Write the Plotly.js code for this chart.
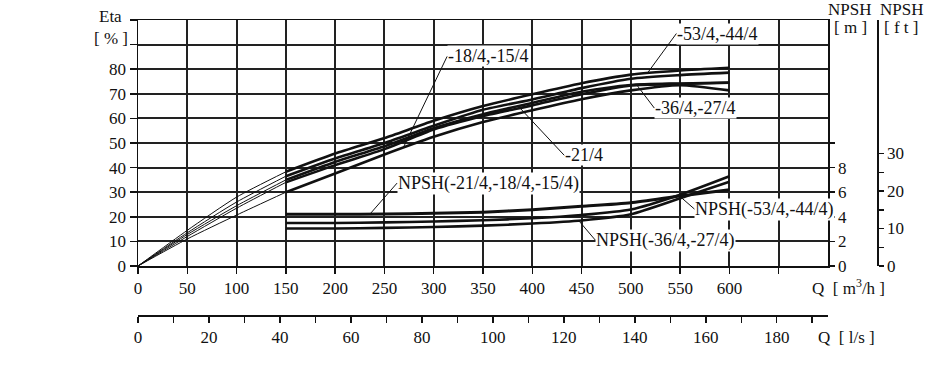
<!DOCTYPE html>
<html><head><meta charset="utf-8">
<script src="https://cdn.plot.ly/plotly-3.0.1.min.js"></script>
<style>html,body{margin:0;padding:0;background:#fff}#chart{width:940px;height:372px}</style>
</head><body><div id="chart"></div>
<script>
// ---------- DATA ----------
// Flow rate sample points [m3/h]
const flowQ = [0, 50, 100, 150, 200, 250, 300, 350, 400, 450, 500, 550, 600];
// Efficiency curves [%]
const etaTop   = [0, 14.5, 28.0, 38.3, 45.7, 52.0, 59.0, 65.0, 69.8, 74.3, 77.8, 79.5, 80.6];
const etaSec   = [0, 13.5, 26.0, 36.5, 43.7, 50.0, 57.0, 63.5, 67.7, 72.3, 76.1, 77.6, 78.6];
const etaMid   = [0, 12.8, 24.5, 35.0, 42.3, 48.7, 56.0, 61.7, 66.3, 70.8, 73.6, 74.2, 74.6];
const etaLow   = [0, 12.0, 23.5, 34.0, 41.0, 47.5, 55.5, 61.0, 65.3, 69.8, 73.4, 74.0, 74.5];
const etaBot   = [0, 11.0, 20.7, 30.0, 37.6, 45.3, 52.5, 58.5, 63.3, 67.8, 71.4, 73.5, 71.4];
// NPSH curves [m]
const npshQ        = [150, 200, 250, 300, 350, 400, 450, 500, 550, 600];
const npsh21_18_15 = [4.2, 4.2, 4.22, 4.28, 4.38, 4.58, 4.85, 5.15, 5.7, 6.2];
const npsh53_44    = [3.5, 3.5, 3.55, 3.62, 3.72, 3.88, 4.15, 4.6, 5.8, 7.3];
const npsh36_27    = [3.05, 3.05, 3.1, 3.17, 3.28, 3.45, 3.7, 4.2, 5.5, 6.85];
// Axis ticks
const qTicks   = [0, 50, 100, 150, 200, 250, 300, 350, 400, 450, 500, 550, 600, 650];
const qLabels  = ['0','50','100','150','200','250','300','350','400','450','500','550','600',' '];
const lsTicks  = [0,10,20,30,40,50,60,70,80,90,100,110,120,130,140,150,160,170,180,190];
const lsLabels = ['0',' ','20',' ','40',' ','60',' ','80',' ','100',' ','120',' ','140',' ','160',' ','180',' '];
const etaTicks  = [0,10,20,30,40,50,60,70,80,90,100];
const etaLabels = ['0','10','20','30','40','50','60','70','80',' ',' '];
const mTicks  = [0,2,4,6,8,10];
const mLabels = ['0','2','4','6','8',' '];
const ftTicks  = [0,5,10,15,20,25,30];
const ftLabels = ['0',' ','10',' ','20',' ','30'];

// ---------- STYLE ----------
const INK = '#111';
const FONT = '"Liberation Serif", "Times New Roman", serif';
const M3H_TO_LS = 1/3.6;
const M_TO_FT = 1/0.3048;
const Q_MAX = 700;
const NPSH_MAX_M = 20;

const traces = [];
[etaTop, etaSec, etaMid, etaLow, etaBot].forEach(function (arr) {
  const thinX = [], thinY = [], thickX = [], thickY = [];
  flowQ.forEach(function (q, i) {
    if (q <= 150) { thinX.push(q); thinY.push(arr[i]); }
    if (q >= 150) { thickX.push(q); thickY.push(arr[i]); }
  });
  traces.push({x: thinX, y: thinY, mode: 'lines', line: {color: INK, width: 1, shape: 'spline', smoothing: 0.6}, hoverinfo: 'skip'});
  traces.push({x: thickX, y: thickY, mode: 'lines', line: {color: INK, width: 2.6, shape: 'spline', smoothing: 0.6}, hoverinfo: 'skip'});
});
[[npsh21_18_15, 3], [npsh53_44, 2.6], [npsh36_27, 2.6]].forEach(function (p) {
  traces.push({x: npshQ, y: p[0], yaxis: 'y2', mode: 'lines', line: {color: INK, width: p[1], shape: 'spline', smoothing: 0.6}, hoverinfo: 'skip'});
});
// invisible carriers for the secondary axes
traces.push({x: [lsTicks[0]], y: [etaTicks[0]], xaxis: 'x2', yaxis: 'y', mode: 'markers', marker: {opacity: 0}, hoverinfo: 'skip'});
traces.push({x: [qTicks[0]], y: [ftTicks[0]], xaxis: 'x', yaxis: 'y3', mode: 'markers', marker: {opacity: 0}, hoverinfo: 'skip'});

const tickFont = {family: FONT, size: 17, color: INK};
const lblFont = {family: FONT, size: 18, color: INK};

function leader(text, tipX, tipY, tailX, tailY, yr) {
  return {text: text, x: tipX, y: tipY, ax: tailX, ay: tailY, xref: 'x', yref: yr, axref: 'x', ayref: yr,
    showarrow: true, arrowhead: 0, arrowwidth: 1, arrowcolor: INK, standoff: 0, startstandoff: 0,
    xanchor: 'left', yanchor: 'middle', font: lblFont, bgcolor: '#fff', borderpad: 0};
}
function label(text, x, y, xanchor, yref, yshift) {
  return {text: text, x: x, y: y, xref: 'paper', yref: yref || 'paper', showarrow: false,
    xanchor: xanchor || 'center', yanchor: 'middle', yshift: yshift || 0, font: tickFont};
}

const annotations = [
  leader('-18/4,-15/4', 269, 48.0, 313.6, 85.2, 'y'),
  leader('-21/4', 387.6, 64.2, 432.4, 45.0, 'y'),
  leader('-53/4,-44/4', 516.6, 78.3, 546.2, 94.5, 'y'),
  leader('-36/4,-27/4', 506.2, 73.5, 523.8, 64.2, 'y'),
  leader('NPSH(-21/4,-18/4,-15/4)', 235.3, 4.22, 262.8, 6.74, 'y2'),
  leader('NPSH(-53/4,-44/4)', 548.5, 5.75, 564.5, 4.63, 'y2'),
  leader('NPSH(-36/4,-27/4)', 447, 3.7, 463.9, 2.11, 'y2'),
  label('Eta', -0.0372, 100, 'center', 'y', 4),
  label('[ % ]', -0.0372, 90, 'center', 'y', 6),
  label('NPSH', 0.9628, 1.0339),
  label('[ m ]', 0.9648, 0.9729),
  label('NPSH', 1.0325, 1.0339),
  label('[ f t ]', 1.0318, 0.9729),
  label('Q\u00a0\u00a0[ m<sup>3</sup>/h ]', 0.9608, 0.0949),
  label('Q\u00a0\u00a0[ l/s ]', 0.9587, -0.0763)
];

const axBase = {showline: true, linecolor: INK, linewidth: 1.5, ticks: 'outside', tickcolor: INK, tickwidth: 1.5,
  tickfont: tickFont, zeroline: false, tickmode: 'array'};

const layout = {
  width: 940, height: 372,
  margin: {l: 138, r: 63, t: 20, b: 57, pad: 0},
  paper_bgcolor: '#fff', plot_bgcolor: '#fff',
  font: {family: FONT, color: INK},
  showlegend: false, hovermode: false,
  xaxis: Object.assign({}, axBase, {domain: [0, 690/739], range: [0, Q_MAX], tickvals: qTicks, ticktext: qLabels,
    ticklen: 6, showgrid: true, gridcolor: '#222', gridwidth: 2, mirror: true}),
  xaxis2: Object.assign({}, axBase, {overlaying: 'x', anchor: 'free', position: 0, side: 'bottom',
    range: [0, Q_MAX * M3H_TO_LS], tickvals: lsTicks, ticktext: lsLabels, ticklen: 6, showgrid: false}),
  yaxis: Object.assign({}, axBase, {domain: [49/295, 1], range: [0, 100], tickvals: etaTicks, ticktext: etaLabels,
    ticklen: 7, showgrid: true, gridcolor: '#222', gridwidth: 2, mirror: true}),
  yaxis2: Object.assign({}, axBase, {overlaying: 'y', side: 'right', anchor: 'x', range: [0, NPSH_MAX_M],
    tickvals: mTicks, ticktext: mLabels, ticklen: 5, showgrid: false}),
  yaxis3: Object.assign({}, axBase, {overlaying: 'y', side: 'right', anchor: 'free', position: 1,
    range: [0, NPSH_MAX_M * M_TO_FT], tickvals: ftTicks, ticktext: ftLabels, ticklen: 5, showgrid: false}),
  annotations: annotations
};

Plotly.newPlot('chart', traces, layout, {staticPlot: true, displayModeBar: false});
</script>
</body></html>
